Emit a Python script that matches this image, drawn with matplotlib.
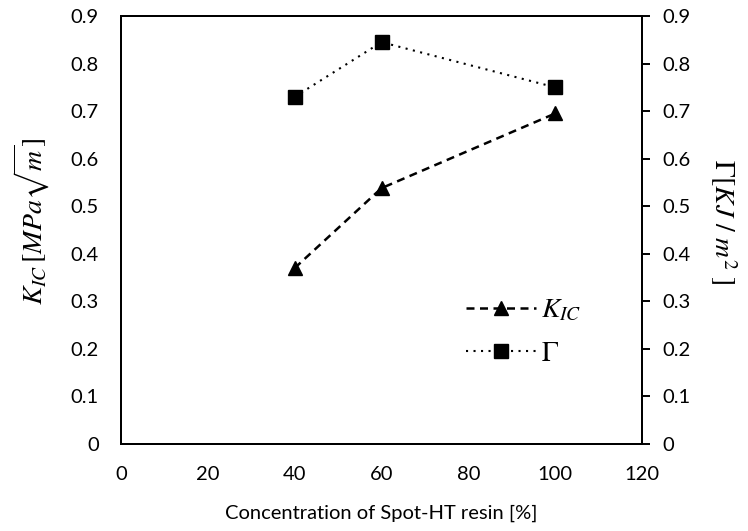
import matplotlib
matplotlib.use("Agg")
import matplotlib.pyplot as plt

# resin concentration [%] and measured toughness values
concentration = [40, 60, 100]
k_ic = [0.37, 0.538, 0.695]
gamma = [0.73, 0.845, 0.75]

x_ticks = [0, 20, 40, 60, 80, 100, 120]
y_ticks = [0, 0.1, 0.2, 0.3, 0.4, 0.5, 0.6, 0.7, 0.8, 0.9]
y_ticklabels = ["0", "0.1", "0.2", "0.3", "0.4", "0.5", "0.6", "0.7", "0.8", "0.9"]

plt.rcParams["font.family"] = ["Lato", "DejaVu Sans"]
plt.rcParams["mathtext.fontset"] = "stix"

fig = plt.figure(figsize=(7.48, 5.31), dpi=100)
ax = fig.add_axes([121 / 748, 1 - 444 / 531, 521 / 748, 428 / 531])
ax2 = ax.twinx()

line_k, = ax.plot(concentration, k_ic, color="black", linestyle=(0, (3.2, 2.2)),
                  linewidth=1.8, marker="^", markersize=10, label=r"$K_{IC}$")
line_g, = ax2.plot(concentration, gamma, color="black", linestyle=(0, (1, 2.6)),
                   linewidth=1.5, marker="s", markersize=10, label=r"$\Gamma$")

ax.set_xlim(0, 120)
ax.set_ylim(0, 0.9)
ax2.set_ylim(0, 0.9)
ax.set_xticks(x_ticks)
ax.set_yticks(y_ticks)
ax.set_yticklabels(y_ticklabels)
ax2.set_yticks(y_ticks)
ax2.set_yticklabels(y_ticklabels)

for a in (ax, ax2):
    for s in a.spines.values():
        s.set_linewidth(1.4)
ax.tick_params(axis="both", length=0, labelsize=14.5, pad=16)
ax2.tick_params(axis="y", direction="out", length=5.5, width=1.4, labelsize=14.5, pad=9)

ax.set_xlabel("Concentration of Spot-HT resin [%]", fontsize=14.5)
ax.xaxis.set_label_coords(0.5, -0.142)
ax.set_ylabel(r"$K_{IC}\,[MPa\sqrt{m}]$", fontsize=20)
ax.yaxis.set_label_coords(-0.132, 0.52)
ax2.set_ylabel(r"$\Gamma[KJ\ /\ m^2\ ]$", fontsize=20, rotation=-90)
ax2.yaxis.set_label_coords(1.185, 0.52)

ax2.legend([line_k, line_g], [r"$K_{IC}$", r"$\Gamma$"], loc="upper left",
           bbox_to_anchor=(0.636, 0.377), frameon=False, fontsize=20,
           handlelength=2.5, handletextpad=0.2, labelspacing=0.6, borderpad=0)

fig.savefig("out.png", dpi=100)
